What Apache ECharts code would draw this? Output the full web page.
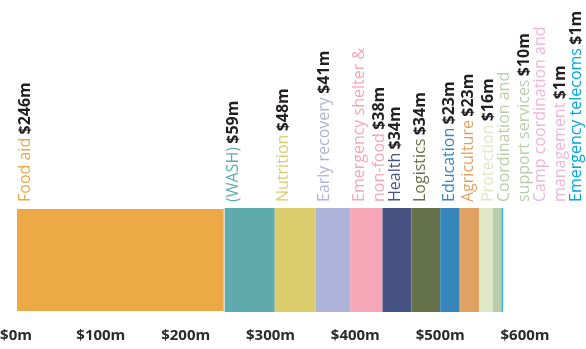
<!DOCTYPE html>
<html>
<head>
<meta charset="utf-8">
<script src="https://cdn.jsdelivr.net/npm/echarts@6/dist/echarts.min.js"></script>
<style>
  html, body { margin: 0; padding: 0; background: #fff; }
  #main { width: 586px; height: 349px; }
</style>
</head>
<body>
<div id="main"></div>
<script>
// funding by sector, $m
var categories = ['Food aid', '(WASH)', 'Nutrition', 'Early recovery', 'Emergency shelter &\nnon-food',
    'Health', 'Logistics', 'Education', 'Agriculture', 'Protection',
    'Coordination and\nsupport services', 'Camp coordination and\nmanagement', 'Emergency telecoms'];
var values = [246, 59, 48, 41, 38, 34, 34, 23, 23, 16, 10, 1, 1];
var barColors = ['#eda946', '#5faaad', '#dbcc6e', '#aeb3da', '#f5a7b8', '#475383', '#66724b',
    '#3586ba', '#e0a262', '#dfe8c6', '#bccdab', '#b891c2', '#00aeef'];
var textColors = ['#eda946', '#5faaad', '#dbcc6e', '#aeb3da', '#f5a7b8', '#475383', '#66724b',
    '#3586ba', '#e0a262', '#dfe8c6', '#bccdab', '#efb6d8', '#00a5e3'];
var axisTicks = [0, 100, 200, 300, 400, 500, 600];

var FONT = '"Open Sans", sans-serif';

function labelText(name, value) {
    var lines = name.split('\n');
    var out = lines.map(function (l) { return '{n|' + l + '}'; });
    out[out.length - 1] += ' {v|$' + value + 'm}';
    return out.join('\n');
}

var series = categories.map(function (name, i) {
    return {
        name: name,
        type: 'bar',
        stack: 'total',
        barWidth: '100%',
        data: [values[i]],
        itemStyle: i === 0 ? { color: barColors[i], borderColor: '#fff', borderWidth: 1 } : { color: barColors[i] },
        emphasis: { disabled: true },
        label: {
            show: true,
            position: 'top',
            rotate: 90,
            align: 'left',
            verticalAlign: 'top',
            formatter: labelText(name, values[i]),
            rich: {
                n: { color: textColors[i], fontSize: 16, fontFamily: FONT, lineHeight: 20 },
                v: { color: '#231f20', fontSize: 16, fontWeight: 'bold', fontFamily: FONT, lineHeight: 20 }
            }
        },
        labelLayout: function (params) {
            return {
                x: params.rect.x - 1,
                y: params.rect.y - 6,
                align: 'left',
                verticalAlign: 'top',
                moveOverlap: 'shiftX'
            };
        }
    };
});

var myChart = echarts.init(document.getElementById('main'));
var option = {
    animation: false,
    grid: { left: 16, right: 61, top: 208, bottom: 37, outerBoundsMode: 'none' },
    xAxis: {
        type: 'value',
        min: axisTicks[0],
        max: axisTicks[axisTicks.length - 1],
        interval: 100,
        axisLine: { show: false },
        axisTick: { show: false },
        splitLine: { show: false },
        axisLabel: {
            margin: 16,
            color: '#2b2b2b',
            fontSize: 15,
            fontWeight: 'bold',
            fontFamily: FONT,
            formatter: function (v) { return '$' + v + 'm'; }
        }
    },
    yAxis: {
        type: 'category',
        data: [''],
        show: false
    },
    series: series
};
myChart.setOption(option);
</script>
</body>
</html>
